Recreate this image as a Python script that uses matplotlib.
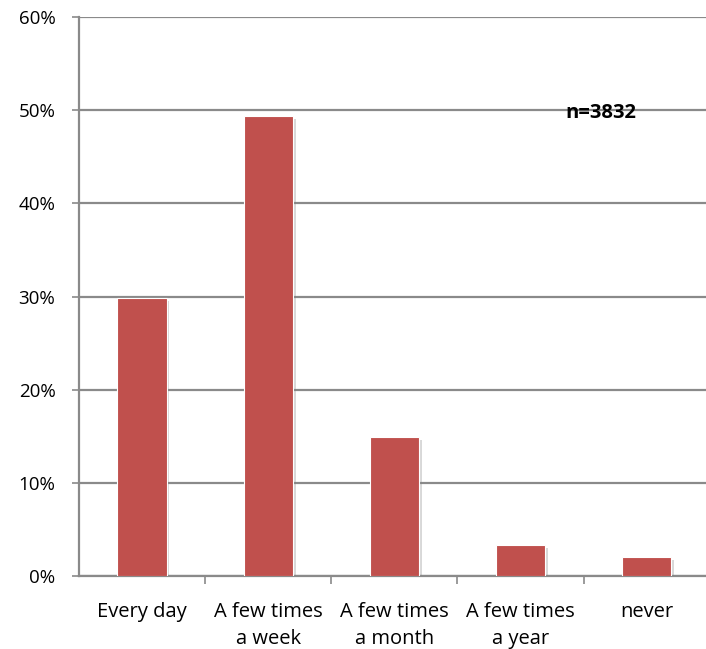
import matplotlib
matplotlib.use("Agg")
import matplotlib.pyplot as plt
import matplotlib.patheffects as pe
from matplotlib.ticker import FixedLocator, PercentFormatter

categories = ["Every day", "A few times\na week", "A few times\na month",
              "A few times\na year", "never"]
shares = [29.8, 49.4, 14.9, 3.35, 2.05]
y_ticks = [0, 10, 20, 30, 40, 50, 60]
note = "n=3832"

plt.rcParams["font.family"] = ["Open Sans", "DejaVu Sans"]

W, H = 706, 649
fig = plt.figure(figsize=(W / 100, H / 100), dpi=100)
left, right, top, bottom = 79, 709.7, 17, 576
ax = fig.add_axes([left / W, 1 - bottom / H, (right - left) / W, (bottom - top) / H])

grid_col = "#8a8a8a"
bar_col = "#c0504d"

x = list(range(len(categories)))
bars = ax.bar(x, shares, width=0.39, color=bar_col, edgecolor="white",
              linewidth=0.8, zorder=3)
for b in bars:
    b.set_path_effects([pe.SimplePatchShadow(offset=(2, -2), shadow_rgbFace="#7f7f7f", alpha=0.3),
                        pe.Normal()])

ax.set_xlim(-0.5, len(categories) - 0.5)
ax.set_ylim(0, 60)
ax.set_yticks(y_ticks)
ax.yaxis.set_major_formatter(PercentFormatter(decimals=0))
ax.yaxis.grid(True, color=grid_col, linewidth=1.6, zorder=0)
ax.set_axisbelow(True)

ax.set_xticks(x)
ax.set_xticklabels(categories, fontsize=14.5, linespacing=1.45, va="top")
ax.xaxis.set_minor_locator(FixedLocator([i + 0.5 for i in range(len(categories) - 1)]))
ax.tick_params(axis="x", which="major", length=0, pad=19)
ax.tick_params(axis="x", which="minor", length=5.5, width=1.2, color=grid_col)
ax.tick_params(axis="y", length=5, width=1.2, color=grid_col, pad=12, labelsize=13.5)

for s in ["top", "right"]:
    ax.spines[s].set_visible(False)
for s in ["left", "bottom"]:
    ax.spines[s].set_color(grid_col)
    ax.spines[s].set_linewidth(1.6)

ax.text(3.64, 49.7, note, fontsize=14.5, fontweight="bold", ha="center", va="center",
        zorder=4)

fig.savefig("out.png", dpi=100)
